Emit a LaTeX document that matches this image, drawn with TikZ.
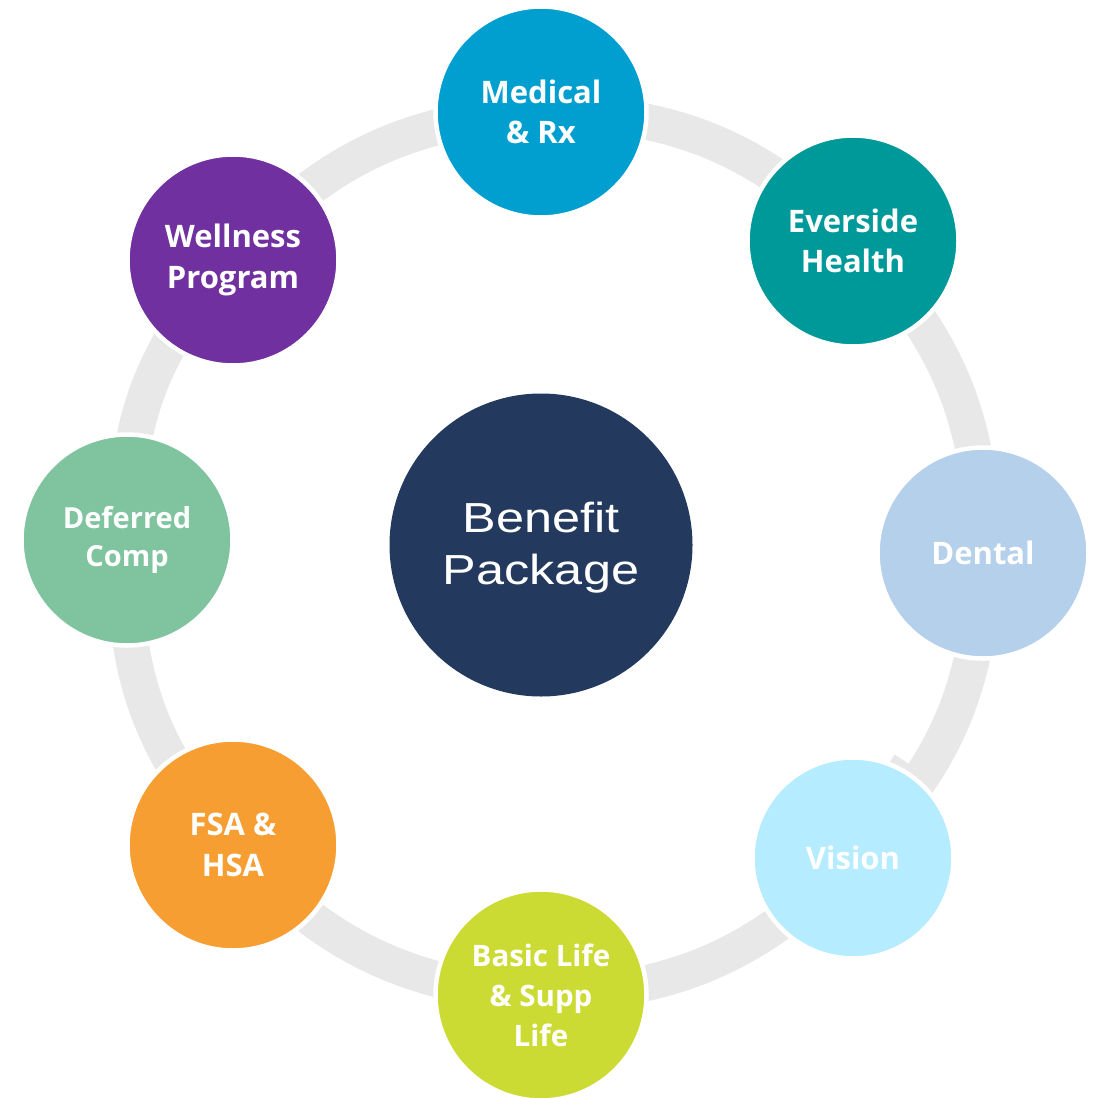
\documentclass[tikz,border=0pt]{standalone}
\usepackage{fontspec}
\newfontfamily\labfont{Open Sans}
\newfontfamily\cenfont{Liberation Sans}
\definecolor{cMed}{RGB}{0,159,207}
\definecolor{cEve}{RGB}{0,153,153}
\definecolor{cDen}{RGB}{180,208,234}
\definecolor{cVis}{RGB}{182,236,255}
\definecolor{cBas}{RGB}{204,219,51}
\definecolor{cFsa}{RGB}{247,158,51}
\definecolor{cDef}{RGB}{127,196,159}
\definecolor{cWel}{RGB}{112,48,160}
\definecolor{cCen}{RGB}{35,58,94}
\definecolor{cBand}{RGB}{232,232,232}
\begin{document}
\begin{tikzpicture}[x=1pt,y=-1pt,
  item/.style={circle,draw=white,line width=4.5pt,minimum size=211pt,inner sep=0pt,
    text=white,align=center,font=\labfont\bfseries\fontsize{31}{40.5}\selectfont},
  band/.style={draw=cBand,line width=36pt}]
\useasboundingbox (0,0) rectangle (1102,1097);
\coordinate (pmed) at (541,112);
\coordinate (peve) at (853,241);
\coordinate (pden) at (983,553);
\coordinate (pvis) at (853,858);
\coordinate (pbas) at (541,995);
\coordinate (pfsa) at (233,845);
\coordinate (pdef) at (127,540);
\coordinate (pwel) at (233,260);
\draw[band] (pmed) to[bend left=22.5] (peve);
\draw[band] (peve) to[bend left=22.5] (pden);
\draw[band] (pden) to[bend left=22.5] (pvis);
\draw[band] (pvis) to[bend left=22.5] (pbas);
\draw[band] (pbas) to[bend left=22.5] (pfsa);
\draw[band] (pfsa) to[bend left=22.5] (pdef);
\draw[band] (pdef) to[bend left=22.5] (pwel);
\draw[band] (pwel) to[bend left=22.5] (pmed);
\fill[cBand] (894.6,754.4) -- (929.4,777.6) -- (909.4,809.6) -- (874.6,786.4) -- cycle;
\node[item,fill=cMed] (med) at (pmed) {Medical\\\& Rx};
\node[item,fill=cEve] (eve) at (peve) {Everside\\Health};
\node[item,fill=cDen] (den) at (pden) {Dental};
\node[item,fill=cVis,minimum size=201pt] (vis) at (pvis) {Vision};
\node[item,fill=cBas,font=\labfont\bfseries\fontsize{29.5}{40}\selectfont] (bas) at (pbas) {Basic Life\\\& Supp\\Life};
\node[item,fill=cFsa] (fsa) at (pfsa) {FSA \&\\HSA};
\node[item,fill=cDef,font=\labfont\bfseries\fontsize{29}{38.5}\selectfont] (def) at (pdef) {Deferred\\Comp};
\node[item,fill=cWel] (wel) at (pwel) {Wellness\\Program};
\node[circle,fill=cCen,minimum size=303pt,inner sep=0pt] (cen) at (541,545) {};
\node[text=white,align=center,font=\cenfont\fontsize{42}{52}\selectfont,xscale=1.2] (centxt) at ([yshift=-3pt]cen.center) {Benefit\\Package};
\end{tikzpicture}
\end{document}
